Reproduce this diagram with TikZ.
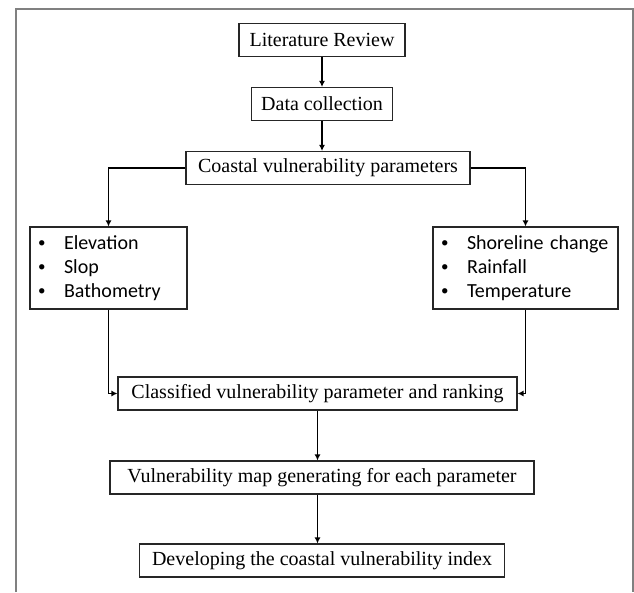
\documentclass[tikz,border=0pt]{standalone}
\usepackage{fontspec}
\setmainfont{Liberation Serif}
\newfontfamily\listfont{Carlito}
\usetikzlibrary{arrows.meta,positioning}

\newcommand{\bul}[1]{\mbox{\makebox[26pt][l]{\raisebox{1.5pt}{\fontsize{15}{15}\selectfont\textbullet}}#1}}

\begin{document}
\begin{tikzpicture}[
    x=1pt,y=1pt,
    node distance=64pt,
    box/.style={rectangle,draw=black!85,line width=1.1pt,minimum height=33pt,inner xsep=9pt,font=\fontsize{20}{24}\selectfont},
    list/.style={rectangle,draw=black!85,line width=1.1pt,minimum height=82pt,inner xsep=8pt,inner ysep=2pt,align=left,font=\listfont\fontsize{20}{24}\selectfont},
    arrow/.style={-{Latex[length=6pt,width=6pt]},line width=1.8pt},
    frame/.style={draw=black!50,line width=1.6pt}
]
    \useasboundingbox (0,0) rectangle (634,-592);
    \draw[frame] (16,-592) -- (16,-9) -- (633,-9) -- (633,-592);

    \node[box,minimum width=166pt] (lit) at (322,-40) {Literature Review};
    \node[box,minimum width=141pt,below of=lit] (data) {Data collection};
    \node[box,minimum width=284pt,below of=data,xshift=6pt] (coastal) {Coastal vulnerability parameters};

    \node[list,text width=141pt] (left) at (108.5,-268) {\bul{Elevation}\\\bul{Slop}\\\bul{Bathometry}};
    \node[list,text width=169pt] (right) at (525.5,-268) {\bul{Shoreline change}\\\bul{Rainfall}\\\bul{Temperature}};

    \node[box,minimum width=399pt] (classified) at (317.5,-393.5) {Classified vulnerability parameter and ranking};
    \node[box,minimum width=424pt,below of=classified,yshift=-20pt,xshift=4.5pt] (map) {Vulnerability map generating for each parameter};
    \node[box,minimum width=365pt,below of=map,yshift=-19pt] (dev) {Developing the coastal vulnerability index};

    \draw[arrow] (lit) -- (data);
    \draw[arrow] (data.south) -- (data.south |- coastal.north);
    \draw[arrow] (coastal.west) -| (left);
    \draw[arrow] (coastal.east) -| (right);
    \draw[arrow] (left) |- (classified);
    \draw[arrow] (right) |- (classified);
    \draw[arrow] (classified) -- (classified |- map.north);
    \draw[arrow] (classified |- map.south) -- (classified |- dev.north);
\end{tikzpicture}
\end{document}
